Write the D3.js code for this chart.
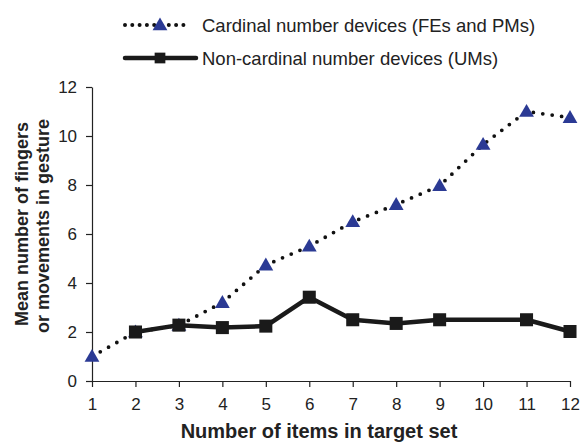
<!DOCTYPE html>
<html>
<head>
<meta charset="utf-8">
<script src="https://cdn.jsdelivr.net/npm/d3@7"></script>
<style>
  body { margin: 0; background: #fff; }
  text { font-family: "Liberation Sans", Arial, sans-serif; fill: #222; }
</style>
</head>
<body>
<div id="vis"></div>
<script>
// Data
const items = [1, 2, 3, 4, 5, 6, 7, 8, 9, 10, 11, 12];
const cardinal = [1.0, 2.0, 2.27, 3.2, 4.73, 5.5, 6.5, 7.2, 7.97, 9.65, 11.0, 10.75];
// UMs: no value at 1 or 10
const nonCardinal = [null, 2.0, 2.28, 2.18, 2.24, 3.42, 2.5, 2.35, 2.5, null, 2.5, 2.02];
const yTicks = [0, 2, 4, 6, 8, 10, 12];
const legendLabels = ['Cardinal number devices (FEs and PMs)', 'Non-cardinal number devices (UMs)'];

const margin = { top: 87, right: 11, bottom: 61, left: 92 };
const W = 581, H = 442;
const width = W - margin.left - margin.right;
const height = H - margin.top - margin.bottom;

const svgRoot = d3.select('#vis').append('svg')
    .attr('width', W)
    .attr('height', H);

const svg = svgRoot.append('g')
    .attr('transform', `translate(${margin.left},${margin.top})`);

const x = d3.scaleLinear().domain([1, 12]).range([0, width]);
const y = d3.scaleLinear().domain([0, 12]).range([height, 0]);

// Axes
const xAxis = svg.append('g')
    .attr('transform', `translate(0,${height})`)
    .call(d3.axisBottom(x).tickValues(items).tickSize(6).tickSizeOuter(0).tickFormat(d3.format('d')));
const yAxis = svg.append('g')
    .call(d3.axisLeft(y).tickValues(yTicks).tickSize(6).tickSizeOuter(0));

[xAxis, yAxis].forEach(a => {
    a.selectAll('path, line').attr('stroke', '#222').attr('stroke-width', 1.2);
    a.selectAll('text').style('font-size', '17px').attr('fill', '#222');
});
xAxis.selectAll('text').attr('y', 17);
yAxis.selectAll('text').attr('dx', '-0.35em');

// Axis labels
svg.append('text')
    .attr('x', width / 2 - 12)
    .attr('y', height + 57)
    .attr('text-anchor', 'middle')
    .style('font-size', '20px')
    .style('font-weight', 'bold')
    .text('Number of items in target set');

const yl = svg.append('text')
    .attr('transform', 'rotate(-90)')
    .attr('text-anchor', 'middle')
    .style('font-size', '18px')
    .style('font-weight', 'bold');
yl.append('tspan').attr('x', -(224 - margin.top)).attr('y', -64).text('Mean number of fingers');
yl.append('tspan').attr('x', -(226 - margin.top)).attr('y', -43).text('or movements in gesture');

// Series
const blue = '#2b3a94';
const triangle = d3.symbol().type(d3.symbolTriangle).size(95);
const square = d3.symbol().type(d3.symbolSquare).size(170);

const cardData = items.map((d, i) => ({ x: d, y: cardinal[i] }));
const umData = items.map((d, i) => ({ x: d, y: nonCardinal[i] })).filter(d => d.y !== null);

const line = d3.line().x(d => x(d.x)).y(d => y(d.y));

svg.append('path')
    .datum(cardData)
    .attr('d', line)
    .attr('fill', 'none')
    .attr('stroke', '#111')
    .attr('stroke-width', 3.8)
    .attr('stroke-linecap', 'round')
    .attr('stroke-dasharray', '0,9.5');

svg.selectAll('.tri')
    .data(cardData)
    .join('path')
    .attr('class', 'tri')
    .attr('d', triangle)
    .attr('transform', d => `translate(${x(d.x)},${y(d.y) + 1})`)
    .attr('fill', blue);

svg.append('path')
    .datum(umData)
    .attr('d', line)
    .attr('fill', 'none')
    .attr('stroke', '#1a1a1a')
    .attr('stroke-width', 4.5)
    .attr('stroke-linejoin', 'round');

svg.selectAll('.sq')
    .data(umData)
    .join('path')
    .attr('class', 'sq')
    .attr('d', square)
    .attr('transform', d => `translate(${x(d.x)},${y(d.y)})`)
    .attr('fill', '#1a1a1a');

// Legend
const legend = svgRoot.append('g');
const ly = [25, 58];

legend.append('line')
    .attr('x1', 125).attr('x2', 190)
    .attr('y1', ly[0]).attr('y2', ly[0])
    .attr('stroke', '#111')
    .attr('stroke-width', 4)
    .attr('stroke-linecap', 'round')
    .attr('stroke-dasharray', '0,7.3');
legend.append('path')
    .attr('d', triangle)
    .attr('transform', `translate(160,${ly[0] + 1})`)
    .attr('fill', blue);

legend.append('line')
    .attr('x1', 125).attr('x2', 196)
    .attr('y1', ly[1]).attr('y2', ly[1])
    .attr('stroke', '#1a1a1a')
    .attr('stroke-width', 4.5)
    .attr('stroke-linecap', 'round');
legend.append('path')
    .attr('d', d3.symbol().type(d3.symbolSquare).size(115))
    .attr('transform', `translate(160,${ly[1]})`)
    .attr('fill', '#1a1a1a');

legend.selectAll('.ltext')
    .data(legendLabels)
    .join('text')
    .attr('class', 'ltext')
    .attr('x', 202)
    .attr('y', (d, i) => ly[i] + 1)
    .attr('dy', '0.35em')
    .style('font-size', '18.5px')
    .text(d => d);
</script>
</body>
</html>
